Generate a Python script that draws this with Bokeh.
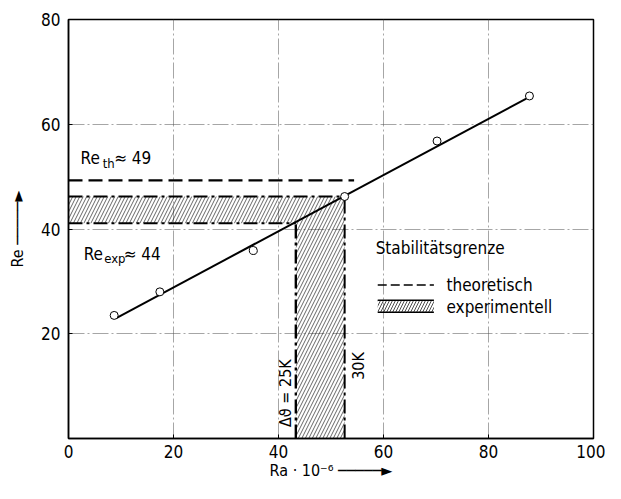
import math
from bokeh.plotting import figure
from bokeh.models import FixedTicker
from bokeh.core.properties import value
from bokeh.embed import file_html
from bokeh.resources import INLINE

FONT = "DejaVu Sans Condensed"

# data
ra = [8.7, 17.4, 35.2, 52.6, 70.2, 87.8]
re = [23.5, 28.0, 35.9, 46.2, 56.8, 65.4]
fit_ra = [9.1, 87.2]
fit_re = [23.0, 64.9]
re_th = 49.3
re_th_end = 54.4
re_exp_low = 41.1
re_exp_high = 46.2
ra_low = 43.3
ra_high = 52.6
x_ticks = [0, 20, 40, 60, 80, 100]
y_ticks = [20, 40, 60, 80]

p = figure(width=605, height=483, x_range=(0, 100), y_range=(0, 80),
           output_backend="svg", toolbar_location=None,
           min_border_left=68, min_border_right=12, min_border_top=19, min_border_bottom=45)
p.background_fill_color = "white"
p.border_fill_color = "white"
p.outline_line_color = "black"
p.outline_line_width = 1.5

for ax in (p.xaxis[0], p.yaxis[0]):
    ax.axis_line_color = "black"
    ax.axis_line_width = 1.5
    ax.major_tick_in = 4
    ax.major_tick_out = 0
    ax.minor_tick_line_color = None
    ax.major_label_text_font = FONT
    ax.major_label_text_font_size = "17px"
    ax.major_label_text_color = "black"
    ax.axis_label_text_font = FONT
    ax.axis_label_text_font_size = "16px"
    ax.axis_label_text_font_style = "normal"
    ax.axis_label_text_color = "black"
p.xaxis[0].ticker = FixedTicker(ticks=x_ticks)
p.yaxis[0].ticker = FixedTicker(ticks=y_ticks)
p.xaxis[0].major_label_standoff = 6
p.yaxis[0].major_label_standoff = 8
p.xaxis[0].axis_label = "Ra · 10⁻⁶ ─────►"
p.xaxis[0].axis_label_standoff = 0
p.yaxis[0].axis_label = "Re ─────►"
p.yaxis[0].axis_label_standoff = 11

for g in (p.xgrid[0], p.ygrid[0]):
    g.grid_line_color = "#555555"
    g.grid_line_width = 0.7
    g.grid_line_alpha = 0.75
    g.grid_line_dash = "16 3 2 3"
p.xgrid[0].ticker = FixedTicker(ticks=[20, 40, 60, 80])
p.ygrid[0].ticker = FixedTicker(ticks=[20, 40, 60])

# hatched experimental region
p.patch([0, ra_low, ra_low, ra_high, ra_high, 0],
        [re_exp_low, re_exp_low, 0, 0, re_exp_high, re_exp_high],
        fill_color=None, line_color=None,
        hatch_pattern="/", hatch_scale=7, hatch_weight=0.6, hatch_color="black")

# experimental boundaries (dash-dot)
dd = "14 4 3 4"
p.line([0, ra_high], [re_exp_high, re_exp_high], line_color="black", line_width=2.0, line_dash=dd)
p.line([0, ra_low], [re_exp_low, re_exp_low], line_color="black", line_width=2.2, line_dash=dd)
p.line([ra_low, ra_low], [0, re_exp_low], line_color="black", line_width=2.4, line_dash=dd)
p.line([ra_high, ra_high], [0, re_exp_high], line_color="black", line_width=2.0, line_dash=dd)

# theoretical (dashed)
p.line([0, re_th_end], [re_th, re_th], line_color="black", line_width=2.2, line_dash="14 6")

# fit and measurements
p.line(fit_ra, fit_re, line_color="black", line_width=2)
p.scatter(ra, re, size=8, marker="circle", fill_color="white", line_color="black", line_width=1)

def txt(x, y, s, size="17px", angle=0.0, align="left", baseline="alphabetic"):
    p.text(x=[x], y=[y], text=[s], text_font=value(FONT), text_font_size=size,
           text_color="black", angle=angle, text_align=align, text_baseline=baseline)

# Re_th ≈ 49
txt(2.3, 53.6, "Re", "17px")
txt(6.5, 52.6, "th", "13px")
txt(8.7, 53.6, "≈ 49", "17px")
# Re_exp ≈ 44
txt(2.9, 35.3, "Re", "17px")
txt(6.8, 34.3, "exp", "13px")
txt(10.5, 35.3, "≈ 44", "17px")

# vertical labels
txt(41.3, 2.2, "Δϑ = 25K", "16px", angle=math.pi / 2, baseline="middle")
txt(55.2, 11.2, "30K", "16px", angle=math.pi / 2, baseline="middle")

# legend
txt(58.5, 36.4, "Stabilitätsgrenze", "17px", baseline="middle")
p.line([58.9, 69.6], [29.3, 29.3], line_color="black", line_width=1.6, line_dash="9 4")
txt(72, 29.3, "theoretisch", "17px", baseline="middle")
p.quad(left=[58.9], right=[69.6], bottom=[24.1], top=[26.4], fill_color=None, line_color=None,
       hatch_pattern="/", hatch_scale=6, hatch_weight=0.7, hatch_color="black")
p.line([58.9, 69.6], [26.4, 26.4], line_color="black", line_width=1.4)
p.line([58.9, 69.6], [24.1, 24.1], line_color="black", line_width=1.4)
txt(72, 25.2, "experimentell", "17px", baseline="middle")

open("out.html", "w").write(file_html(p, INLINE))
